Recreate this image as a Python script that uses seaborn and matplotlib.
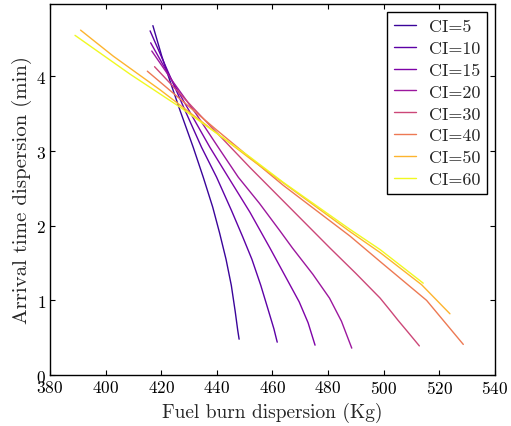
import matplotlib
matplotlib.use("Agg")
import matplotlib.pyplot as plt
import seaborn as sns
import pandas as pd

# CI levels and their curves (fuel burn dispersion [Kg], arrival time dispersion [min])
ci_levels = [5, 10, 15, 20, 30, 40, 50, 60]

fuel_ci5 = [417.0, 420.2, 423.5, 426.7, 431.5, 435.1, 438.5, 441.0, 443.3, 445.2, 446.6, 447.5, 448.0]
time_ci5 = [4.68, 4.27, 3.90, 3.55, 3.05, 2.65, 2.25, 1.90, 1.55, 1.20, 0.85, 0.60, 0.48]

fuel_ci10 = [416.0, 422.0, 428.5, 434.5, 439.9, 445.3, 449.3, 452.6, 455.8, 458.4, 460.5, 461.7]
time_ci10 = [4.61, 4.10, 3.55, 3.05, 2.65, 2.20, 1.85, 1.55, 1.20, 0.88, 0.62, 0.44]

fuel_ci15 = [416.2, 423.0, 430.5, 437.5, 444.1, 451.9, 459.1, 464.5, 469.6, 472.8, 475.3]
time_ci15 = [4.45, 4.00, 3.51, 3.05, 2.65, 2.18, 1.70, 1.33, 0.98, 0.70, 0.40]

fuel_ci20 = [416.6, 424.0, 432.5, 440.5, 447.7, 455.3, 462.7, 467.2, 474.5, 480.5, 484.8, 488.5]
time_ci20 = [4.34, 3.94, 3.50, 3.05, 2.65, 2.30, 1.93, 1.70, 1.35, 1.03, 0.72, 0.36]

fuel_ci30 = [417.6, 434.5, 451.9, 463.9, 480.7, 490.0, 498.7, 502.2, 505.2, 508.8, 512.8]
time_ci30 = [4.13, 3.46, 2.78, 2.33, 1.70, 1.36, 1.03, 0.87, 0.73, 0.57, 0.39]

fuel_ci40 = [415.0, 440.0, 463.9, 487.9, 498.7, 515.4, 528.6]
time_ci40 = [4.07, 3.28, 2.54, 1.86, 1.52, 1.00, 0.41]

fuel_ci50 = [391.0, 402.8, 419.6, 451.9, 487.9, 498.7, 513.6, 523.8]
time_ci50 = [4.62, 4.27, 3.82, 2.90, 1.92, 1.64, 1.21, 0.82]

fuel_ci60 = [389.0, 408.8, 426.7, 451.9, 463.9, 487.9, 498.7, 514.2]
time_ci60 = [4.55, 4.03, 3.59, 2.92, 2.58, 1.95, 1.68, 1.23]

fuel = [fuel_ci5, fuel_ci10, fuel_ci15, fuel_ci20, fuel_ci30, fuel_ci40, fuel_ci50, fuel_ci60]
time = [time_ci5, time_ci10, time_ci15, time_ci20, time_ci30, time_ci40, time_ci50, time_ci60]

sns.set_style("white")
plt.rcParams.update({
    "font.family": "serif",
    "font.serif": ["cmr10"],
    "mathtext.fontset": "cm",
    "axes.formatter.use_mathtext": True,
    "axes.edgecolor": "black",
    "axes.linewidth": 1.0,
    "xtick.direction": "in",
    "ytick.direction": "in",
    "xtick.top": True,
    "ytick.right": True,
    "xtick.bottom": True,
    "ytick.left": True,
    "xtick.major.size": 3.5,
    "ytick.major.size": 3.5,
    "xtick.color": "black",
    "ytick.color": "black",
})

cmap = plt.get_cmap("plasma")

fig = plt.figure(figsize=(5.11, 4.27), dpi=100)
ax = fig.add_axes([0.0978, 0.1194, 0.8709, 0.8689])

for ci, xs, ys in zip(ci_levels, fuel, time):
    df = pd.DataFrame({"fuel": xs, "time": ys})
    sns.lineplot(data=df, x="fuel", y="time", ax=ax, sort=False, estimator=None,
                 color=cmap(ci / 60), linewidth=1.0, label=f"CI={ci}")

ax.set_xlim(380, 540)
ax.set_ylim(0, 4.97)
ax.set_xticks(range(380, 541, 20))
ax.set_yticks([0, 1, 2, 3, 4])
ax.tick_params(labelsize=12.5, pad=3)
ax.set_xlabel("Fuel burn dispersion (Kg)", fontsize=14)
ax.set_ylabel("Arrival time dispersion (min)", fontsize=15, labelpad=3)

leg = ax.legend(loc="upper right", fontsize=13, frameon=True, fancybox=False,
                edgecolor="black", framealpha=1, handlelength=1.2, handletextpad=0.7,
                labelspacing=0.34, borderpad=0.4, borderaxespad=0.42)
leg.get_frame().set_linewidth(1.0)

fig.savefig("out.png", dpi=100)
